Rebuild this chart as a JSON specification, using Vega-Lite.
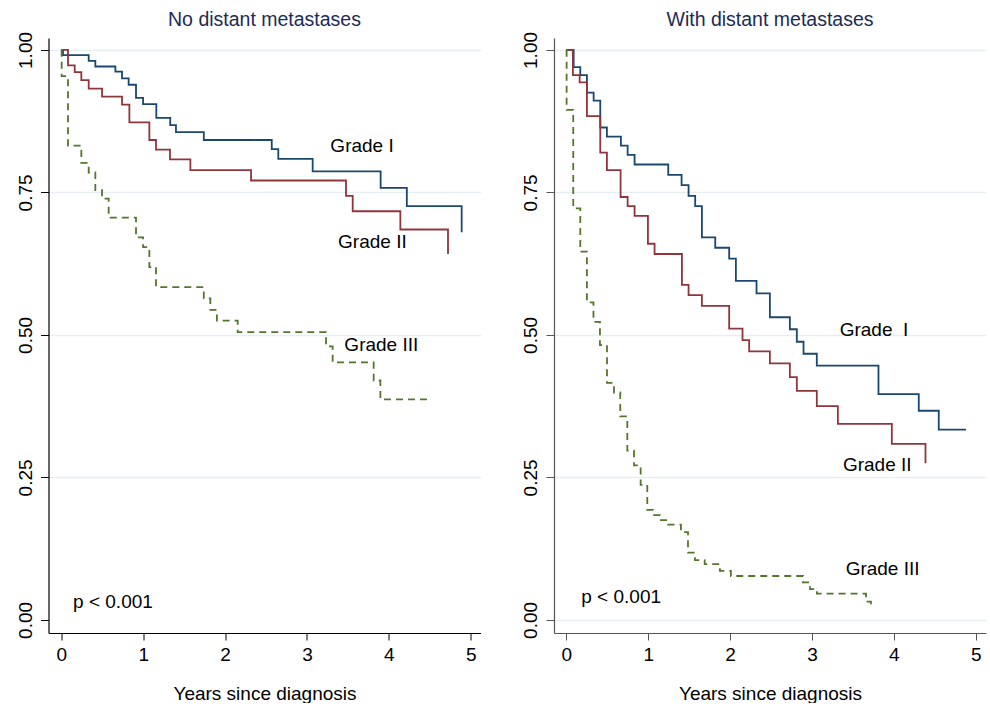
{
  "$schema": "https://vega.github.io/schema/vega-lite/v6.json",
  "background": "white",
  "padding": {"left": 15.5, "top": 9, "right": 0, "bottom": 0},
  "spacing": 40.5,
  "config": {
    "font": "Liberation Sans",
    "view": {"stroke": null},
    "title": {"fontSize": 19.5, "fontWeight": "normal", "color": "#1c2b54", "offset": 0, "dy": 3, "font": "Liberation Sans"},
    "axis": {"labelFontSize": 19, "titleFontSize": 19, "titleFontWeight": "normal", "labelColor": "black", "titleColor": "black", "labelFont": "Liberation Sans", "titleFont": "Liberation Sans", "labelFlush": false, "labelOverlap": false}
  },
  "datasets": {
    "km": [
      {"panel": "No", "grade": "Grade I", "t": 0, "s": 1},
      {"panel": "No", "grade": "Grade I", "t": 0.02, "s": 0.991},
      {"panel": "No", "grade": "Grade I", "t": 0.334, "s": 0.981},
      {"panel": "No", "grade": "Grade I", "t": 0.415, "s": 0.971},
      {"panel": "No", "grade": "Grade I", "t": 0.66, "s": 0.962},
      {"panel": "No", "grade": "Grade I", "t": 0.741, "s": 0.95},
      {"panel": "No", "grade": "Grade I", "t": 0.822, "s": 0.939},
      {"panel": "No", "grade": "Grade I", "t": 0.912, "s": 0.916},
      {"panel": "No", "grade": "Grade I", "t": 0.998, "s": 0.905},
      {"panel": "No", "grade": "Grade I", "t": 1.16, "s": 0.881},
      {"panel": "No", "grade": "Grade I", "t": 1.33, "s": 0.868},
      {"panel": "No", "grade": "Grade I", "t": 1.4, "s": 0.856},
      {"panel": "No", "grade": "Grade I", "t": 1.74, "s": 0.842},
      {"panel": "No", "grade": "Grade I", "t": 2.57, "s": 0.826},
      {"panel": "No", "grade": "Grade I", "t": 2.65, "s": 0.809},
      {"panel": "No", "grade": "Grade I", "t": 3.07, "s": 0.787},
      {"panel": "No", "grade": "Grade I", "t": 3.9, "s": 0.758},
      {"panel": "No", "grade": "Grade I", "t": 4.22, "s": 0.726},
      {"panel": "No", "grade": "Grade I", "t": 4.89, "s": 0.68},

      {"panel": "No", "grade": "Grade II", "t": 0, "s": 1},
      {"panel": "No", "grade": "Grade II", "t": 0.081, "s": 0.973},
      {"panel": "No", "grade": "Grade II", "t": 0.163, "s": 0.961},
      {"panel": "No", "grade": "Grade II", "t": 0.244, "s": 0.947},
      {"panel": "No", "grade": "Grade II", "t": 0.334, "s": 0.932},
      {"panel": "No", "grade": "Grade II", "t": 0.497, "s": 0.918},
      {"panel": "No", "grade": "Grade II", "t": 0.741, "s": 0.904},
      {"panel": "No", "grade": "Grade II", "t": 0.831, "s": 0.873},
      {"panel": "No", "grade": "Grade II", "t": 1.075, "s": 0.842},
      {"panel": "No", "grade": "Grade II", "t": 1.156, "s": 0.825},
      {"panel": "No", "grade": "Grade II", "t": 1.327, "s": 0.808},
      {"panel": "No", "grade": "Grade II", "t": 1.576, "s": 0.789},
      {"panel": "No", "grade": "Grade II", "t": 2.317, "s": 0.771},
      {"panel": "No", "grade": "Grade II", "t": 3.477, "s": 0.744},
      {"panel": "No", "grade": "Grade II", "t": 3.559, "s": 0.717},
      {"panel": "No", "grade": "Grade II", "t": 4.141, "s": 0.685},
      {"panel": "No", "grade": "Grade II", "t": 4.723, "s": 0.642},

      {"panel": "No", "grade": "Grade III", "t": 0, "s": 1},
      {"panel": "No", "grade": "Grade III", "t": 0.004, "s": 0.954},
      {"panel": "No", "grade": "Grade III", "t": 0.081, "s": 0.832},
      {"panel": "No", "grade": "Grade III", "t": 0.244, "s": 0.802},
      {"panel": "No", "grade": "Grade III", "t": 0.334, "s": 0.785},
      {"panel": "No", "grade": "Grade III", "t": 0.415, "s": 0.754},
      {"panel": "No", "grade": "Grade III", "t": 0.497, "s": 0.739},
      {"panel": "No", "grade": "Grade III", "t": 0.578, "s": 0.706},
      {"panel": "No", "grade": "Grade III", "t": 0.912, "s": 0.671},
      {"panel": "No", "grade": "Grade III", "t": 0.998, "s": 0.654},
      {"panel": "No", "grade": "Grade III", "t": 1.075, "s": 0.619},
      {"panel": "No", "grade": "Grade III", "t": 1.156, "s": 0.584},
      {"panel": "No", "grade": "Grade III", "t": 1.74, "s": 0.564},
      {"panel": "No", "grade": "Grade III", "t": 1.82, "s": 0.544},
      {"panel": "No", "grade": "Grade III", "t": 1.9, "s": 0.525},
      {"panel": "No", "grade": "Grade III", "t": 2.154, "s": 0.505},
      {"panel": "No", "grade": "Grade III", "t": 3.233, "s": 0.48},
      {"panel": "No", "grade": "Grade III", "t": 3.314, "s": 0.452},
      {"panel": "No", "grade": "Grade III", "t": 3.815, "s": 0.42},
      {"panel": "No", "grade": "Grade III", "t": 3.897, "s": 0.387},
      {"panel": "No", "grade": "Grade III", "t": 4.467, "s": 0.387},

      {"panel": "With", "grade": "Grade I", "t": 0, "s": 1},
      {"panel": "With", "grade": "Grade I", "t": 0.09, "s": 0.97},
      {"panel": "With", "grade": "Grade I", "t": 0.171, "s": 0.956},
      {"panel": "With", "grade": "Grade I", "t": 0.252, "s": 0.925},
      {"panel": "With", "grade": "Grade I", "t": 0.334, "s": 0.911},
      {"panel": "With", "grade": "Grade I", "t": 0.415, "s": 0.864},
      {"panel": "With", "grade": "Grade I", "t": 0.496, "s": 0.848},
      {"panel": "With", "grade": "Grade I", "t": 0.667, "s": 0.832},
      {"panel": "With", "grade": "Grade I", "t": 0.749, "s": 0.816},
      {"panel": "With", "grade": "Grade I", "t": 0.834, "s": 0.799},
      {"panel": "With", "grade": "Grade I", "t": 1.245, "s": 0.781},
      {"panel": "With", "grade": "Grade I", "t": 1.408, "s": 0.763},
      {"panel": "With", "grade": "Grade I", "t": 1.493, "s": 0.744},
      {"panel": "With", "grade": "Grade I", "t": 1.574, "s": 0.726},
      {"panel": "With", "grade": "Grade I", "t": 1.656, "s": 0.671},
      {"panel": "With", "grade": "Grade I", "t": 1.819, "s": 0.653},
      {"panel": "With", "grade": "Grade I", "t": 1.989, "s": 0.634},
      {"panel": "With", "grade": "Grade I", "t": 2.071, "s": 0.595},
      {"panel": "With", "grade": "Grade I", "t": 2.323, "s": 0.573},
      {"panel": "With", "grade": "Grade I", "t": 2.486, "s": 0.531},
      {"panel": "With", "grade": "Grade I", "t": 2.73, "s": 0.51},
      {"panel": "With", "grade": "Grade I", "t": 2.815, "s": 0.488},
      {"panel": "With", "grade": "Grade I", "t": 2.897, "s": 0.467},
      {"panel": "With", "grade": "Grade I", "t": 3.059, "s": 0.446},
      {"panel": "With", "grade": "Grade I", "t": 3.812, "s": 0.396},
      {"panel": "With", "grade": "Grade I", "t": 4.304, "s": 0.367},
      {"panel": "With", "grade": "Grade I", "t": 4.548, "s": 0.334},
      {"panel": "With", "grade": "Grade I", "t": 4.882, "s": 0.334},

      {"panel": "With", "grade": "Grade II", "t": 0, "s": 1},
      {"panel": "With", "grade": "Grade II", "t": 0.081, "s": 0.956},
      {"panel": "With", "grade": "Grade II", "t": 0.163, "s": 0.943},
      {"panel": "With", "grade": "Grade II", "t": 0.252, "s": 0.884},
      {"panel": "With", "grade": "Grade II", "t": 0.415, "s": 0.82},
      {"panel": "With", "grade": "Grade II", "t": 0.496, "s": 0.789},
      {"panel": "With", "grade": "Grade II", "t": 0.663, "s": 0.742},
      {"panel": "With", "grade": "Grade II", "t": 0.749, "s": 0.726},
      {"panel": "With", "grade": "Grade II", "t": 0.834, "s": 0.709},
      {"panel": "With", "grade": "Grade II", "t": 0.997, "s": 0.66},
      {"panel": "With", "grade": "Grade II", "t": 1.078, "s": 0.642},
      {"panel": "With", "grade": "Grade II", "t": 1.412, "s": 0.588},
      {"panel": "With", "grade": "Grade II", "t": 1.493, "s": 0.57},
      {"panel": "With", "grade": "Grade II", "t": 1.656, "s": 0.551},
      {"panel": "With", "grade": "Grade II", "t": 1.989, "s": 0.511},
      {"panel": "With", "grade": "Grade II", "t": 2.152, "s": 0.491},
      {"panel": "With", "grade": "Grade II", "t": 2.233, "s": 0.471},
      {"panel": "With", "grade": "Grade II", "t": 2.486, "s": 0.45},
      {"panel": "With", "grade": "Grade II", "t": 2.73, "s": 0.426},
      {"panel": "With", "grade": "Grade II", "t": 2.815, "s": 0.402},
      {"panel": "With", "grade": "Grade II", "t": 3.059, "s": 0.375},
      {"panel": "With", "grade": "Grade II", "t": 3.316, "s": 0.344},
      {"panel": "With", "grade": "Grade II", "t": 3.975, "s": 0.309},
      {"panel": "With", "grade": "Grade II", "t": 4.386, "s": 0.275},

      {"panel": "With", "grade": "Grade III", "t": 0, "s": 1},
      {"panel": "With", "grade": "Grade III", "t": 0.004, "s": 0.895},
      {"panel": "With", "grade": "Grade III", "t": 0.085, "s": 0.722},
      {"panel": "With", "grade": "Grade III", "t": 0.171, "s": 0.646},
      {"panel": "With", "grade": "Grade III", "t": 0.252, "s": 0.557},
      {"panel": "With", "grade": "Grade III", "t": 0.332, "s": 0.523},
      {"panel": "With", "grade": "Grade III", "t": 0.411, "s": 0.482},
      {"panel": "With", "grade": "Grade III", "t": 0.497, "s": 0.416},
      {"panel": "With", "grade": "Grade III", "t": 0.582, "s": 0.399},
      {"panel": "With", "grade": "Grade III", "t": 0.659, "s": 0.357},
      {"panel": "With", "grade": "Grade III", "t": 0.745, "s": 0.297},
      {"panel": "With", "grade": "Grade III", "t": 0.827, "s": 0.271},
      {"panel": "With", "grade": "Grade III", "t": 0.908, "s": 0.237},
      {"panel": "With", "grade": "Grade III", "t": 0.989, "s": 0.193},
      {"panel": "With", "grade": "Grade III", "t": 1.058, "s": 0.184},
      {"panel": "With", "grade": "Grade III", "t": 1.144, "s": 0.175},
      {"panel": "With", "grade": "Grade III", "t": 1.242, "s": 0.167},
      {"panel": "With", "grade": "Grade III", "t": 1.4, "s": 0.154},
      {"panel": "With", "grade": "Grade III", "t": 1.486, "s": 0.118},
      {"panel": "With", "grade": "Grade III", "t": 1.571, "s": 0.105},
      {"panel": "With", "grade": "Grade III", "t": 1.69, "s": 0.098},
      {"panel": "With", "grade": "Grade III", "t": 1.876, "s": 0.086},
      {"panel": "With", "grade": "Grade III", "t": 2.01, "s": 0.077},
      {"panel": "With", "grade": "Grade III", "t": 2.89, "s": 0.066},
      {"panel": "With", "grade": "Grade III", "t": 2.976, "s": 0.054},
      {"panel": "With", "grade": "Grade III", "t": 3.06, "s": 0.046},
      {"panel": "With", "grade": "Grade III", "t": 3.66, "s": 0.032},
      {"panel": "With", "grade": "Grade III", "t": 3.72, "s": 0.023}
    ],
    "labels": [
      {"panel": "No", "label": "Grade I", "t": 3.286, "s": 0.831},
      {"panel": "No", "label": "Grade II", "t": 3.38, "s": 0.663},
      {"panel": "No", "label": "Grade III", "t": 3.457, "s": 0.482},
      {"panel": "No", "label": "p < 0.001", "t": 0.143, "s": 0.032},
      {"panel": "With", "label": "Grade \u00a0I", "t": 3.338, "s": 0.508},
      {"panel": "With", "label": "Grade II", "t": 3.378, "s": 0.272},
      {"panel": "With", "label": "Grade III", "t": 3.411, "s": 0.0895},
      {"panel": "With", "label": "p < 0.001", "t": 0.183, "s": 0.04}
    ]
  },
  "hconcat": [
    {
      "width": 432,
      "height": 595,
      "title": {"text": "No distant metastases"},
      "layer": [
        {
          "data": {"name": "km"},
          "transform": [{"filter": "datum.panel === 'No'"}],
          "mark": {"type": "line", "interpolate": "step-after", "strokeWidth": 1.8},
          "encoding": {
            "x": {"field": "t", "type": "quantitative", "scale": {"domain": [-0.157, 5.12], "nice": false, "zero": false},
                  "axis": {"title": "Years since diagnosis", "values": [0, 1, 2, 3, 4, 5], "format": "d", "grid": false, "tickSize": 7, "labelPadding": 5, "titlePadding": 20, "domainColor": "black", "tickColor": "black", "domainWidth": 1.2}},
            "y": {"field": "s", "type": "quantitative", "scale": {"domain": [-0.023, 1.021], "nice": false, "zero": false},
                  "axis": {"title": null, "values": [0, 0.25, 0.5, 0.75, 1], "format": ".2f", "labelAngle": -90, "labelAlign": "center", "labelBaseline": "bottom", "grid": true, "gridColor": "#e6eef1", "gridWidth": 1.5, "gridOpacity": {"condition": {"test": "datum.value === 0", "value": 0}, "value": 1}, "tickSize": 8, "labelPadding": 5.5, "domainColor": "black", "tickColor": "black", "domainWidth": 1.2}},
            "color": {"field": "grade", "type": "nominal", "legend": null, "scale": {"domain": ["Grade I", "Grade II", "Grade III"], "range": ["#1a476f", "#90353b", "#55752f"]}},
            "strokeDash": {"field": "grade", "type": "nominal", "legend": null, "scale": {"domain": ["Grade I", "Grade II", "Grade III"], "range": [[1, 0], [1, 0], [7, 5]]}}
          }
        },
        {
          "data": {"name": "labels"},
          "transform": [{"filter": "datum.panel === 'No'"}],
          "mark": {"type": "text", "align": "left", "baseline": "middle", "fontSize": 19, "color": "black", "font": "Liberation Sans"},
          "encoding": {
            "x": {"field": "t", "type": "quantitative"},
            "y": {"field": "s", "type": "quantitative"},
            "text": {"field": "label"}
          }
        }
      ]
    },
    {
      "width": 432,
      "height": 595,
      "title": {"text": "With distant metastases"},
      "layer": [
        {
          "data": {"name": "km"},
          "transform": [{"filter": "datum.panel === 'With'"}],
          "mark": {"type": "line", "interpolate": "step-after", "strokeWidth": 1.8},
          "encoding": {
            "x": {"field": "t", "type": "quantitative", "scale": {"domain": [-0.15, 5.125], "nice": false, "zero": false},
                  "axis": {"title": "Years since diagnosis", "values": [0, 1, 2, 3, 4, 5], "format": "d", "grid": false, "tickSize": 7, "labelPadding": 5, "titlePadding": 20, "domainColor": "#555555", "tickColor": "#555555", "domainWidth": 1.2}},
            "y": {"field": "s", "type": "quantitative", "scale": {"domain": [-0.023, 1.021], "nice": false, "zero": false},
                  "axis": {"title": null, "values": [0, 0.25, 0.5, 0.75, 1], "format": ".2f", "labelAngle": -90, "labelAlign": "center", "labelBaseline": "bottom", "grid": true, "gridColor": "#e6eef1", "gridWidth": 1.5, "tickSize": 8, "labelPadding": 5.5, "domainColor": "#555555", "tickColor": "#555555", "domainWidth": 1.2}},
            "color": {"field": "grade", "type": "nominal", "legend": null, "scale": {"domain": ["Grade I", "Grade II", "Grade III"], "range": ["#1a476f", "#90353b", "#55752f"]}},
            "strokeDash": {"field": "grade", "type": "nominal", "legend": null, "scale": {"domain": ["Grade I", "Grade II", "Grade III"], "range": [[1, 0], [1, 0], [7, 5]]}}
          }
        },
        {
          "data": {"name": "labels"},
          "transform": [{"filter": "datum.panel === 'With'"}],
          "mark": {"type": "text", "align": "left", "baseline": "middle", "fontSize": 19, "color": "black", "font": "Liberation Sans"},
          "encoding": {
            "x": {"field": "t", "type": "quantitative"},
            "y": {"field": "s", "type": "quantitative"},
            "text": {"field": "label"}
          }
        }
      ]
    }
  ]
}
